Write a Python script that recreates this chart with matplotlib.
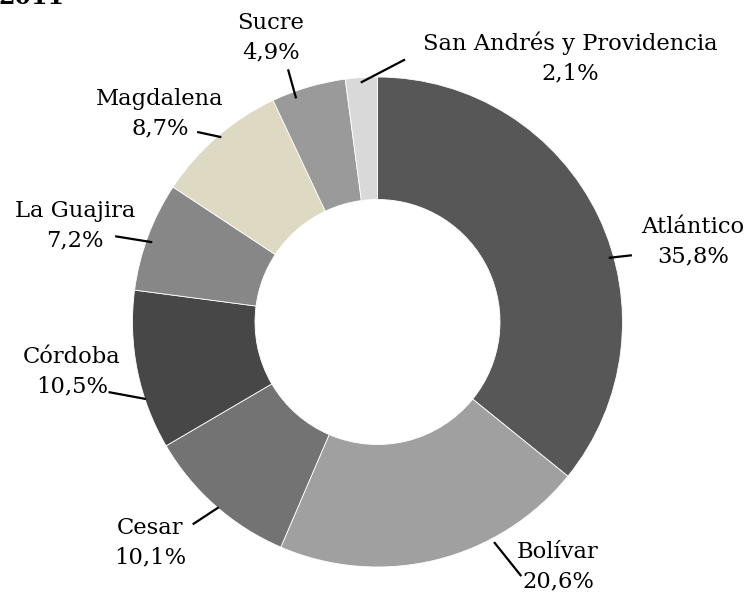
import numpy as np
import matplotlib
matplotlib.use("Agg")
import matplotlib.pyplot as plt

# departments and their share (%)
departments = ["Atlántico", "Bolívar", "Cesar", "Córdoba", "La Guajira",
               "Magdalena", "Sucre", "San Andrés y Providencia"]
shares = [35.8, 20.6, 10.1, 10.5, 7.2, 8.7, 4.9, 2.1]
colors = ["#575757", "#a0a0a0", "#737373", "#474747", "#878787",
          "#ddd9c3", "#9a9a9a", "#d9d9d9"]

# label layout: text centre (px from top-left)
label_pos = [(693, 242), (558, 567), (150, 543), (72, 372),
             (75, 226), (160, 114), (271, 38), (570, 58)]
# leader lines in polar form around the pie centre: (angle_in, r_in, angle_out, r_out)
leader = [(15.5, 240, 14.7, 263), (-62.1, 249, -60.5, 292),
          (229.4, 244, 227.6, 274), (198.4, 244, 194.6, 278),
          (160.5, 239, 161.9, 276), (130.2, 242, 133.5, 262),
          (110.0, 238, 109.5, 268), (94.0, 240, 84.0, 264)]

W, H = 747, 593
cx, cy, R = 377.5, H - 322, 245

fig = plt.figure(figsize=(W / 100, H / 100), dpi=100)
ax = fig.add_axes([0, 0, 1, 1])

ax.pie(shares, colors=colors, startangle=90, counterclock=False,
       center=(cx, cy), radius=R, frame=True,
       wedgeprops=dict(width=R * 0.5, edgecolor="white", linewidth=0.6))
ax.set_xlim(0, W)
ax.set_ylim(0, H)
ax.set_aspect("equal")
ax.axis("off")


def polar(ang, r):
    a = np.deg2rad(ang)
    return cx + r * np.cos(a), cy + r * np.sin(a)


font = "DejaVu Serif"
for name, val, (tx, ty), (a0, r0, a1, r1) in zip(departments, shares, label_pos, leader):
    x0, y0 = polar(a0, r0)
    x1, y1 = polar(a1, r1)
    ax.plot([x0, x1], [y0, y1], color="black", lw=1.6, solid_capstyle="butt")
    txt = f"{name}\n{val:.1f}%".replace(".", ",")
    ax.text(tx, H - ty, txt, ha="center", va="center", fontsize=16.3,
            family=font, linespacing=1.42)

# title mostly cut off at the top edge, as in the source
ax.text(-2, H - 9, "2011", ha="left", va="bottom", fontsize=17,
        fontweight="bold", family=font)

fig.savefig("out.png", dpi=100)
